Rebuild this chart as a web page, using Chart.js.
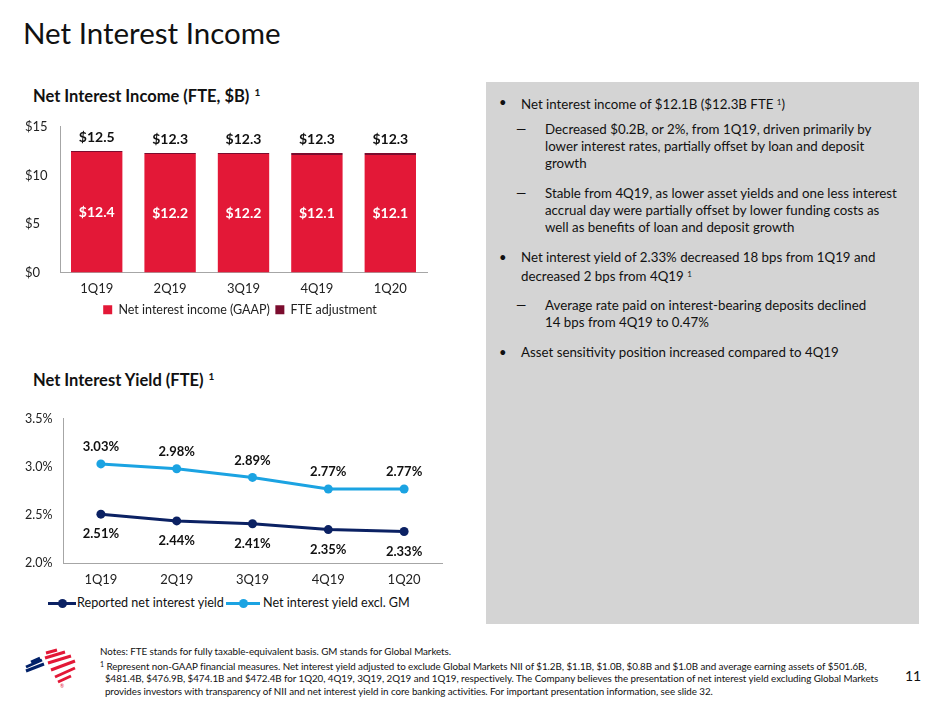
<!DOCTYPE html>
<html>
<head>
<meta charset="utf-8">
<script src="https://cdn.jsdelivr.net/npm/chart.js@4.4.1/dist/chart.umd.min.js"></script>
<style>
  body { margin: 0; width: 946px; height: 702px; background: #fff; font-family: Lato, sans-serif; color: #111; position: relative; overflow: hidden; }
  .abs { position: absolute; white-space: nowrap; }
  #title { left: 23px; top: 15px; font-size: 29.5px; color: #111; }
  .ctitle { left: 33px; font-size: 16.5px; font-weight: bold; }
  .ctitle sup { font-size: 10px; vertical-align: 6px; margin-left: 5px; }
  #box { left: 486px; top: 82px; width: 433px; height: 542px; background: #D4D4D4; }
  .txt { font-size: 13.3px; line-height: 17px; color: #111; }
  .txt sup { font-size: 8px; vertical-align: 4px; }
  .mark { position: absolute; font-size: 13px; line-height: 17px; }
  #notes { left: 100px; top: 645px; font-size: 9.8px; line-height: 12.6px; color: #111; letter-spacing: -0.05px; }
  #notes sup { font-size: 7px; vertical-align: 3px; }
  #page { left: 905px; top: 667px; font-size: 14px; color: #111; }
  .lgline { position: absolute; height: 3px; }
  .lgdot { position: absolute; width: 9px; height: 9px; border-radius: 50%; }
  .lgtext { position: absolute; font-size: 12.6px; color: #111; white-space: nowrap; }
</style>
</head>
<body>
<div id="title" class="abs">Net Interest Income</div>

<div class="abs ctitle" style="top:86px">Net Interest Income (FTE, $B)<sup>1</sup></div>
<div class="abs" style="left:20px; top:116px; width:440px; height:210px"><canvas id="barChart"></canvas></div>

<div class="abs ctitle" style="top:370px">Net Interest Yield (FTE)<sup>1</sup></div>
<div class="abs" style="left:20px; top:408px; width:440px; height:181px"><canvas id="lineChart"></canvas></div>
<div id="lineLegend"></div>

<div id="box" class="abs"></div>
<div class="mark" style="left:499px; top:94px">&#8226;</div>
<div class="abs txt" style="left:521px; top:94px">Net interest income of $12.1B ($12.3B FTE <sup>1</sup>)</div>
<div class="mark" style="left:516px; top:121px">&#8212;</div>
<div class="abs txt" style="left:545px; top:121px">Decreased $0.2B, or 2%, from 1Q19, driven primarily by<br>lower interest rates, partially offset by loan and deposit<br>growth</div>
<div class="mark" style="left:516px; top:185px">&#8212;</div>
<div class="abs txt" style="left:545px; top:185px">Stable from 4Q19, as lower asset yields and one less interest<br>accrual day were partially offset by lower funding costs as<br>well as benefits of loan and deposit growth</div>
<div class="mark" style="left:499px; top:249px">&#8226;</div>
<div class="abs txt" style="left:521px; top:249px">Net interest yield of 2.33% decreased 18 bps from 1Q19 and<br>decreased 2 bps from 4Q19 <sup>1</sup></div>
<div class="mark" style="left:516px; top:297px">&#8212;</div>
<div class="abs txt" style="left:545px; top:297px">Average rate paid on interest-bearing deposits declined<br>14 bps from 4Q19 to 0.47%</div>
<div class="mark" style="left:499px; top:344px">&#8226;</div>
<div class="abs txt" style="left:521px; top:344px">Asset sensitivity position increased compared to 4Q19</div>

<svg class="abs" style="left:0; top:640px" width="100" height="60" viewBox="0 0 100 60">
  <g stroke-linecap="butt" fill="none" stroke-width="3">
    <path d="M31 22 L40 18 M26 27 L42 20 M26 31 L44 24" stroke="#012169"/>
    <path d="M46 13 L57 10 M45 18 L65 12 M48 23 L71 16 M51 30 L75 21 M55 37 L75 28 M58 42 L71 36" stroke="#E31837"/>
  </g>
  <text x="60" y="48" font-size="5" fill="#E31837">&#174;</text>
</svg>
<div id="notes" class="abs">Notes: FTE stands for fully taxable-equivalent basis. GM stands for Global Markets.<br><sup>1</sup> Represent non-GAAP financial measures. Net interest yield adjusted to exclude Global Markets NII of $1.2B, $1.1B, $1.0B, $0.8B and $1.0B and average earning assets of $501.6B,<br>&nbsp;&nbsp;$481.4B, $476.9B, $474.1B and $472.4B for 1Q20, 4Q19, 3Q19, 2Q19 and 1Q19, respectively. The Company believes the presentation of net interest yield excluding Global Markets<br>&nbsp;&nbsp;provides investors with transparency of NII and net interest yield in core banking activities. For important presentation information, see slide 32.</div>
<div id="page" class="abs">11</div>

<script>
const quarters = ['1Q19', '2Q19', '3Q19', '4Q19', '1Q20'];
const niiGaap = [12.4, 12.2, 12.2, 12.1, 12.1];
const fteAdjustment = [0.1, 0.1, 0.1, 0.2, 0.2];
const reportedYield = [2.51, 2.44, 2.41, 2.35, 2.33];
const yieldExclGM = [3.03, 2.98, 2.89, 2.77, 2.77];

const RED = '#E31837';
const MAROON = '#7B0C2E';
const NAVY = '#0B2163';
const SKY = '#1BA3E2';

Chart.defaults.font.family = 'Lato, sans-serif';
Chart.defaults.color = '#222';
Chart.defaults.animation = false;

// value labels for both charts
const valueLabels = {
  id: 'valueLabels',
  afterDatasetsDraw(chart) {
    const ctx = chart.ctx;
    ctx.save();
    ctx.textAlign = 'center';
    ctx.textBaseline = 'middle';
    if (chart.config.type === 'bar') {
      ctx.font = 'bold 14px Lato, sans-serif';
      const inner = chart.getDatasetMeta(0).data;
      const outer = chart.getDatasetMeta(1).data;
      inner.forEach((bar, i) => {
        ctx.fillStyle = '#fff';
        ctx.fillText('$' + niiGaap[i].toFixed(1), bar.x, (bar.y + bar.base) / 2);
        ctx.fillStyle = '#111';
        const total = niiGaap[i] + fteAdjustment[i];
        ctx.fillText('$' + total.toFixed(1), outer[i].x, outer[i].y - 14);
      });
    } else {
      ctx.font = 'bold 13px Lato, sans-serif';
      chart.data.datasets.forEach((ds, di) => {
        chart.getDatasetMeta(di).data.forEach((pt, i) => {
          ctx.fillStyle = '#111';
          ctx.fillText(ds.data[i].toFixed(2) + '%', pt.x, pt.y + ds.labelDy);
        });
      });
    }
    ctx.restore();
  }
};

// nudge the bar legend so it is centred under the whole block, as on the slide
const shiftLegend = {
  id: 'shiftLegend',
  afterLayout(chart) {
    chart.legend.left += 14;
    chart.legend.right += 14;
  }
};

new Chart(document.getElementById('barChart'), {
  type: 'bar',
  data: {
    labels: quarters,
    datasets: [
      { label: 'Net interest income (GAAP)', data: niiGaap, backgroundColor: RED },
      { label: 'FTE adjustment', data: fteAdjustment, backgroundColor: MAROON }
    ]
  },
  options: {
    responsive: true,
    maintainAspectRatio: false,
    datasets: { bar: { categoryPercentage: 1, barPercentage: 0.7 } },
    layout: { padding: { top: 4, right: 33, left: 5 } },
    scales: {
      x: {
        stacked: true,
        grid: { display: false },
        border: { color: '#A6A6A6' },
        ticks: { font: { size: 13 }, padding: 1 }
      },
      y: {
        stacked: true,
        min: 0, max: 15,
        grid: { display: false },
        border: { color: '#A6A6A6' },
        afterFit(scale) { scale.width = 35; },
        ticks: { stepSize: 5, font: { size: 13 }, crossAlign: 'far', callback: v => '$' + v }
      }
    },
    plugins: {
      legend: {
        position: 'bottom',
        labels: { boxWidth: 9, boxHeight: 9, padding: 5.5, font: { size: 12.5 } }
      },
      tooltip: { enabled: false }
    }
  },
  plugins: [valueLabels, shiftLegend]
});

const lineChart = new Chart(document.getElementById('lineChart'), {
  type: 'line',
  data: {
    labels: quarters,
    datasets: [
      { label: 'Reported net interest yield', data: reportedYield, borderColor: NAVY, backgroundColor: NAVY,
        borderWidth: 3, pointRadius: 4.5, pointBackgroundColor: NAVY, pointBorderWidth: 0, labelDy: 20 },
      { label: 'Net interest yield excl. GM', data: yieldExclGM, borderColor: SKY, backgroundColor: SKY,
        borderWidth: 3, pointRadius: 4.5, pointBackgroundColor: SKY, pointBorderWidth: 0, labelDy: -17 }
    ]
  },
  options: {
    responsive: true,
    maintainAspectRatio: false,
    layout: { padding: { top: 8, right: 18, left: 5 } },
    scales: {
      x: {
        offset: true,
        grid: { display: false },
        border: { color: '#A6A6A6' },
        ticks: { font: { size: 13 }, padding: 1 }
      },
      y: {
        min: 2.0, max: 3.5,
        grid: { display: false },
        border: { color: '#A6A6A6' },
        afterFit(scale) { scale.width = 38; },
        ticks: { stepSize: 0.5, font: { size: 12.5 }, crossAlign: 'far', callback: v => v.toFixed(1) + '%' }
      }
    },
    plugins: {
      legend: { display: false },
      tooltip: { enabled: false }
    }
  },
  plugins: [valueLabels]
});

// legend for the line chart: line with a dot, then the series name
const lineLegendSpots = [{ line: 48, width: 28, text: 77 }, { line: 226, width: 34, text: 263 }];
const legendEl = document.getElementById('lineLegend');
lineChart.data.datasets.forEach((ds, i) => {
  const s = lineLegendSpots[i];
  legendEl.insertAdjacentHTML('beforeend',
    `<div class="lgline" style="left:${s.line}px; top:602px; width:${s.width}px; background:${ds.borderColor}"></div>` +
    `<div class="lgdot" style="left:${s.line + s.width / 2 - 4.5}px; top:599px; background:${ds.borderColor}"></div>` +
    `<div class="lgtext" style="left:${s.text}px; top:595px">${ds.label}</div>`);
});
</script>
</body>
</html>
